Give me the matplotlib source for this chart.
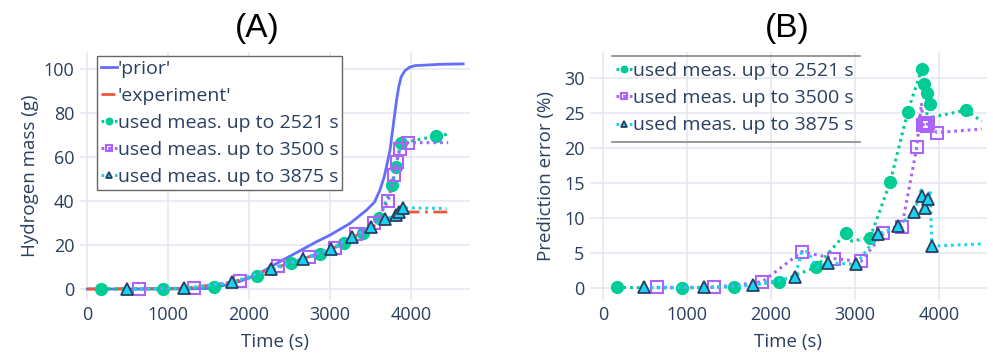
import matplotlib
matplotlib.use("Agg")
import matplotlib.pyplot as plt
from matplotlib.lines import Line2D

plt.rcParams['font.family'] = ['Open Sans', 'DejaVu Sans']

# ---- panel A: hydrogen mass ----
prior_t = [0, 1200, 1550, 1890, 2095, 2383, 2835, 3000, 3247, 3453, 3550, 3617, 3670, 3700, 3741,
           3780, 3823, 3850, 3880, 3926, 3980, 4050, 4358, 4646]
prior_m = [0, 0, 0.3, 3.5, 6.5, 12.5, 21.5, 24.5, 29.8, 35.9, 39.5, 45, 51, 56, 63,
           74, 86, 92, 96.5, 99.2, 100.7, 101.5, 102.1, 102.3]

exp_t = [0, 1200, 1790, 2270, 2670, 3010, 3270, 3500, 3680, 3815, 3860, 3900, 4481]
exp_m = [0, 0.3, 3, 9, 13.8, 18, 23.3, 27.8, 31.3, 33.4, 34.6, 35.0, 35.0]

a_2521_t = [170, 940, 1570, 2095, 2519, 2877, 3177, 3411, 3609, 3769, 3815, 3872, 4304, 4481]
a_2521_m = [0, 0, 0.8, 6, 12, 15.9, 20.8, 25.3, 32.1, 47.2, 55.5, 66.2, 69.5, 70.5]
a_2521_mk = list(range(13))

a_3500_t = [645, 1325, 1890, 2360, 2745, 3062, 3321, 3543, 3720, 3790, 3823, 3864, 3965, 4461]
a_3500_m = [0, 0.5, 3.8, 10.3, 14.6, 18.8, 24.8, 29.8, 40, 51.8, 57.9, 63.5, 66.5, 66.5]
a_3500_mk = list(range(13))

a_3875_t = [490, 1200, 1785, 2266, 2668, 3008, 3268, 3502, 3679, 3815, 3856, 3897, 4440]
a_3875_m = [0, 0.3, 3, 9, 13.8, 18.2, 23.5, 28, 31.7, 33.6, 35.1, 36.9, 36.6]
a_3875_mk = list(range(12))

# ---- panel B: prediction error ----
b_2521_t = [163, 937, 1563, 2095, 2536, 2889, 2960, 3179, 3417, 3627, 3794, 3826, 3857, 3893, 3835, 4321, 4508]
b_2521_e = [0.1, 0.0, 0.2, 0.9, 3.0, 7.8, 6.7, 7.2, 15.1, 25.2, 31.3, 29.2, 27.8, 26.3, 24.2, 25.4, 23.8]
b_2521_mk = [0, 1, 2, 3, 4, 5, 7, 8, 9, 10, 11, 12, 13, 15]

b_3500_t = [639, 1325, 1897, 2365, 2754, 3068, 3337, 3556, 3734, 3790, 3810, 3830, 3850, 3870, 3972, 4508]
b_3500_e = [0.1, 0.1, 0.9, 5.2, 4.2, 3.8, 7.8, 8.7, 20.1, 26.4, 23.3, 23.5, 23.2, 23.6, 22.2, 22.7]
b_3500_mk = [0, 1, 2, 3, 4, 5, 6, 7, 8, 10, 11, 12, 13, 14]

b_3875_t = [488, 1202, 1790, 2285, 2365, 2440, 2536, 2683, 3012, 3278, 3516, 3706, 3786, 3802, 3833, 3873, 3893, 3913, 4508]
b_3875_e = [0.1, 0.1, 0.4, 1.6, 5.2, 5.2, 3.0, 3.6, 3.4, 7.7, 8.9, 10.9, 14.0, 13.2, 11.5, 12.7, 14.0, 6.0, 6.3]
b_3875_mk = [0, 1, 2, 3, 7, 8, 9, 10, 11, 13, 14, 15, 17]

labels = ['used meas. up to 2521 s', 'used meas. up to 3500 s', 'used meas. up to 3875 s']

BLUE = '#636efa'
RED = '#ef553b'
GREEN = '#00cc96'
PURPLE = '#ab63fa'
CYAN = '#19d3f3'
TXT = '#2a3f5f'
GRID = '#e3e8f0'
DOT = (0, (0.9, 1.3))

styles = [
    dict(color=GREEN, marker='o', ms=8.5, mfc=GREEN, mec=GREEN, mew=1),
    dict(color=PURPLE, marker='s', ms=8.5, mfc='none', mec=PURPLE, mew=1.5),
    dict(color=CYAN, marker='^', ms=8.5, mfc=CYAN, mec=TXT, mew=1.3),
]

fig = plt.figure(figsize=(9.93, 3.56), dpi=100)
axA = fig.add_axes([80 / 993, 1 - 300 / 356, 390 / 993, 248 / 356])
axB = fig.add_axes([590 / 993, 1 - 300 / 356, 397 / 993, 248 / 356])

for ax in (axA, axB):
    for s in ax.spines.values():
        s.set_visible(False)
    ax.grid(True, color=GRID, lw=1.1)
    ax.set_axisbelow(True)
    ax.tick_params(length=0, labelsize=13, colors=TXT, pad=4)
    ax.set_xticks([0, 1000, 2000, 3000, 4000])
    ax.set_xlabel('Time (s)', fontsize=13.5, color=TXT)
    ax.xaxis.set_label_coords(0.5, -0.135)

legend_kw = dict(loc='upper left', borderaxespad=0, fontsize=14, handlelength=0.8,
                 handletextpad=0.05, labelspacing=0.47, borderpad=0.2,
                 markerscale=0.55, labelcolor=TXT)

# panel A
axA.plot(prior_t, prior_m, color=BLUE, lw=2, label="'prior'")
axA.plot(exp_t, exp_m, color=RED, lw=2, ls=(0, (5, 2, 1, 2)), label="'experiment'")
for (t, m, mk), st, lab in zip([(a_2521_t, a_2521_m, a_2521_mk),
                                (a_3500_t, a_3500_m, a_3500_mk),
                                (a_3875_t, a_3875_m, a_3875_mk)], styles, labels):
    axA.plot(t, m, ls=DOT, lw=2.2, markevery=mk, label=lab, **st)
axA.set_xlim(-90, 4730)
axA.set_ylim(-5, 107.7)
axA.set_yticks([0, 20, 40, 60, 80, 100])
axA.set_ylabel('Hydrogen mass (g)', fontsize=13.5, color=TXT)
axA.yaxis.set_label_coords(-0.105, 0.5)
legA = axA.legend(bbox_to_anchor=(0.044, 0.985), fancybox=False, framealpha=1,
                  edgecolor='#666666', **legend_kw)
legA.get_frame().set_linewidth(1)

# panel B
for (t, e, mk), st, lab in zip([(b_2521_t, b_2521_e, b_2521_mk),
                                (b_3500_t, b_3500_e, b_3500_mk),
                                (b_3875_t, b_3875_e, b_3875_mk)], styles, labels):
    axB.plot(t, e, ls=DOT, lw=2.2, markevery=mk, label=lab, **st)
axB.set_xlim(-155, 4570)
axB.set_ylim(-1.7, 33.7)
axB.set_yticks([0, 5, 10, 15, 20, 25, 30])
axB.set_ylabel('Prediction error (%)', fontsize=13.5, color=TXT)
axB.yaxis.set_label_coords(-0.088, 0.5)
legB = axB.legend(bbox_to_anchor=(0.056, 0.975), frameon=False, **legend_kw)
for yy in (0.985, 0.638):
    axB.add_line(Line2D([0.056, 0.68], [yy, yy], transform=axB.transAxes,
                        color='#888888', lw=1.2, clip_on=False))

fig.text(257 / 993, 1 - 28 / 356, '(A)', ha='center', va='center', fontsize=24,
         family=['Liberation Sans Narrow', 'Liberation Sans'], color='black')
fig.text(787 / 993, 1 - 28 / 356, '(B)', ha='center', va='center', fontsize=24,
         family=['Liberation Sans Narrow', 'Liberation Sans'], color='black')

fig.savefig('out.png', dpi=100, facecolor='white')
